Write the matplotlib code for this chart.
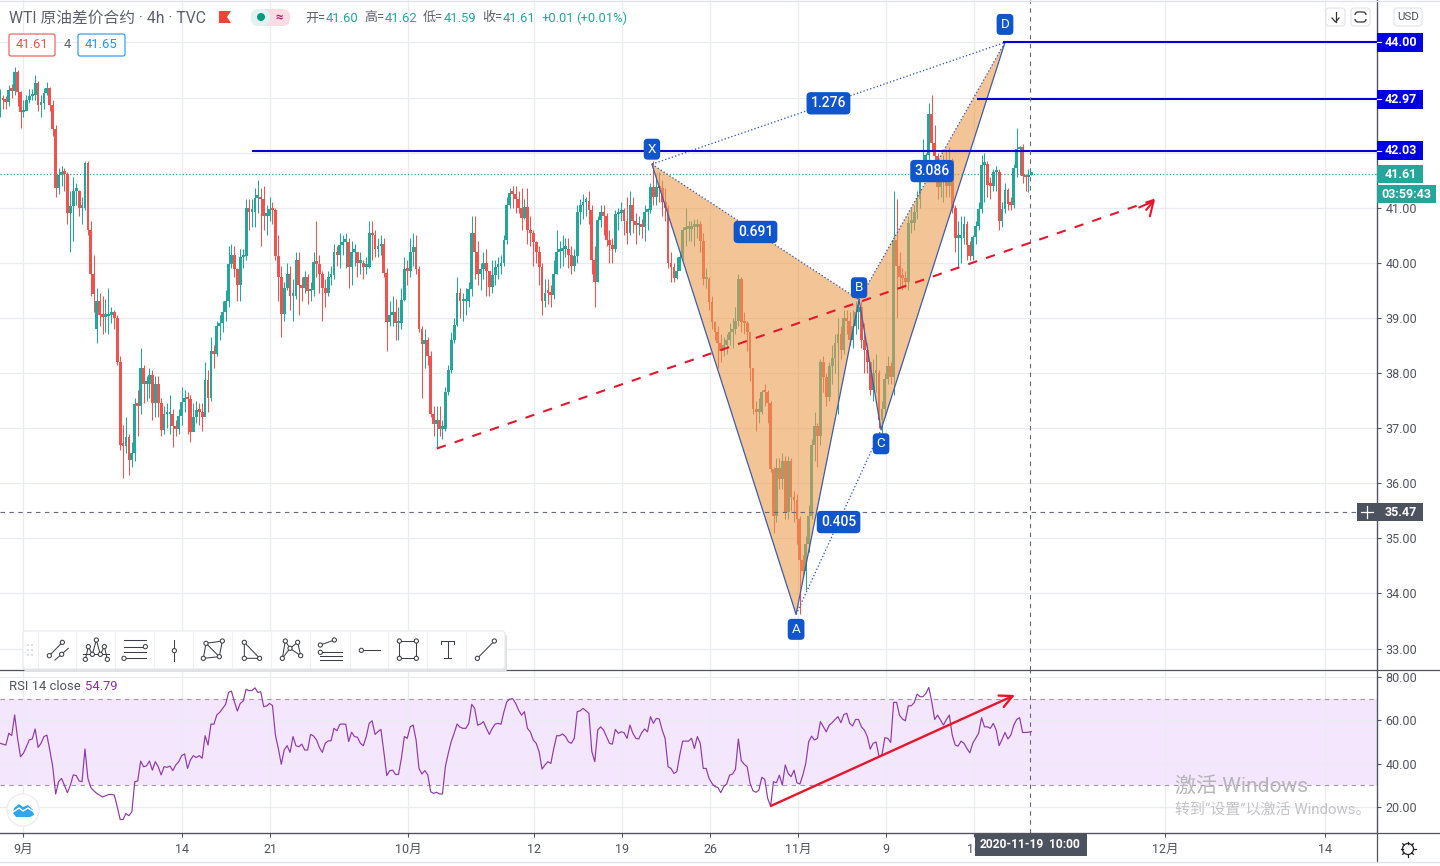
# -*- coding: utf-8 -*-
import numpy as np
import matplotlib
matplotlib.use('Agg')
import matplotlib.pyplot as plt
from matplotlib.patches import Polygon, FancyBboxPatch, Circle, Rectangle

plt.rcParams['font.family'] = ['Roboto', 'Noto Sans CJK SC', 'DejaVu Sans']

# 4h candles, ten per row
closes = [
    43.00,42.95,42.92,43.13,43.12,43.47,43.10,42.73,42.75,42.95,
    43.02,43.05,43.27,42.87,42.90,43.08,43.18,42.87,42.42,41.35,
    41.60,41.65,41.62,40.91,41.03,41.30,41.30,41.00,41.00,41.82,
    40.60,39.80,39.43,39.30,39.05,39.02,39.03,39.05,39.10,39.00,
    38.20,36.70,36.68,36.83,36.43,36.55,37.43,37.40,38.10,37.80,
    37.80,37.97,37.46,37.80,37.46,36.97,37.25,37.25,37.25,37.03,
    36.98,37.22,37.48,37.55,37.52,36.93,37.20,37.33,37.30,37.20,
    37.88,37.55,38.40,38.35,38.85,38.90,39.10,39.30,39.97,40.15,
    39.88,39.60,40.10,40.12,41.00,40.93,40.93,41.18,41.20,41.15,
    40.85,40.85,40.97,40.95,40.12,39.75,39.07,39.55,39.80,39.40,
    39.40,40.05,39.60,39.55,39.75,39.48,39.50,40.02,39.98,39.80,
    39.55,39.45,39.75,39.78,40.20,40.15,40.33,40.38,40.38,39.92,
    40.20,40.20,40.00,40.00,39.93,39.93,40.55,40.50,40.25,40.30,
    40.35,39.82,38.92,39.06,39.10,38.90,38.90,39.33,39.88,39.85,
    40.20,40.28,39.88,38.80,38.52,38.60,38.30,37.25,37.07,37.15,
    36.98,36.98,37.66,38.06,38.60,38.88,39.46,39.30,39.30,39.30,
    39.52,40.55,40.20,39.80,39.88,40.00,39.85,39.57,39.78,39.93,
    39.95,40.00,40.42,41.05,41.27,41.25,41.15,41.00,40.82,41.02,
    40.60,40.55,40.37,40.20,39.93,39.30,39.46,39.45,39.42,39.80,
    40.20,40.22,40.25,40.25,40.15,39.95,40.12,40.93,41.05,41.10,
    41.12,40.95,40.05,39.66,40.78,40.92,40.85,40.42,40.33,40.25,
    40.88,40.90,40.95,40.75,40.55,41.05,40.75,40.68,40.68,40.65,
    40.93,40.95,41.37,41.20,41.38,41.35,41.10,41.00,40.00,39.93,
    39.73,39.85,40.10,40.60,40.62,40.62,40.65,40.65,40.70,40.40,
    39.70,39.70,39.28,38.93,38.75,38.55,38.40,38.50,38.60,38.75,
    38.80,38.95,39.70,38.93,38.90,38.75,38.10,37.35,37.30,37.30,
    37.66,37.65,37.45,36.25,35.40,36.28,36.07,36.40,35.47,36.40,
    35.75,35.70,35.35,34.60,34.40,34.90,35.40,36.70,37.03,36.85,
    38.20,37.92,37.57,38.12,38.28,38.55,38.70,38.42,39.00,38.95,
    38.60,38.85,39.10,39.20,38.60,38.42,38.20,37.70,38.00,38.00,
    37.15,37.35,37.90,38.12,37.92,40.42,39.95,39.75,39.72,39.65,
    40.73,40.73,40.92,41.15,41.70,41.75,41.95,42.70,42.18,41.93,
    41.38,41.50,41.70,41.40,41.87,41.00,40.45,40.45,40.45,40.70,
    40.33,40.12,40.46,40.66,40.97,41.78,41.80,41.42,41.40,41.64,
    41.65,40.75,40.97,41.33,41.06,41.05,41.73,42.06,42.10,41.57,
    41.55,41.60,41.61]
highs = [
    43.15,43.05,43.02,43.22,43.25,43.55,43.5,43.12,42.95,43.05,
    43.15,43.15,43.4,43.3,43.05,43.18,43.28,43.2,42.95,42.5,
    41.72,41.75,41.72,41.65,41.3,41.55,41.45,41.32,41.2,41.85,
    41.84,40.75,40.15,39.55,39.45,39.4,39.35,39.55,39.2,39.15,
    39.05,38.3,37.05,37.2,36.9,36.75,37.55,37.7,38.45,38.15,
    37.95,38.1,38.05,37.95,37.95,37.55,37.4,37.45,37.6,37.35,
    37.15,37.35,37.75,37.7,37.65,37.6,37.45,37.5,37.45,37.45,
    38.2,38.05,38.65,38.5,38.95,39.05,39.3,39.5,40.3,40.35,
    40.3,39.9,40.25,40.25,41.15,41.15,41.15,41.35,41.5,41.35,
    41.4,41.05,41.2,41.1,41.0,40.5,39.95,39.65,40.0,39.95,
    39.7,40.2,40.2,39.75,39.85,39.8,39.65,40.2,40.75,40.15,
    39.85,39.7,39.85,39.95,40.35,40.3,40.55,40.5,40.55,40.45,
    40.4,40.35,40.2,40.2,40.05,40.1,40.75,40.75,40.6,40.45,
    40.5,40.45,39.9,39.3,39.4,39.35,39.2,39.55,40.1,40.05,
    40.45,40.55,40.5,39.95,38.85,38.8,38.65,38.4,37.4,37.4,
    37.4,37.15,37.75,38.15,38.75,39.0,39.75,39.55,39.45,39.55,
    39.65,40.85,40.85,40.4,40.0,40.2,40.25,39.85,40.05,40.05,
    40.1,40.15,40.5,41.2,41.35,41.4,41.4,41.3,41.35,41.15,
    41.35,40.85,40.6,40.4,40.3,40.0,39.7,39.7,39.6,40.05,
    40.6,40.4,40.5,40.45,40.45,40.3,40.25,41.05,41.15,41.25,
    41.2,41.3,41.05,40.3,40.85,41.05,41.05,40.9,40.6,40.45,
    40.95,41.0,41.1,41.0,41.2,41.3,41.2,40.9,40.85,40.8,
    41.05,41.0,41.45,41.85,41.6,41.65,41.5,41.35,41.05,40.2,
    40.0,40.1,40.2,40.65,41.0,40.75,40.75,40.8,40.8,40.75,
    40.55,39.9,39.75,39.4,38.95,38.85,38.7,38.65,38.7,38.9,
    39.0,39.2,39.8,39.75,39.1,38.95,38.75,38.1,37.5,37.55,
    37.7,37.8,37.7,37.5,36.3,36.45,36.45,36.55,36.5,36.5,
    36.45,35.85,35.8,35.4,34.7,35.05,35.6,36.8,37.3,37.1,
    38.25,38.3,38.0,38.2,38.5,38.7,39.0,38.85,39.15,39.15,
    39.1,39.15,39.3,39.45,39.3,38.9,38.55,38.2,38.25,38.35,
    38.05,37.5,38.0,38.3,38.2,41.3,41.15,40.2,39.9,39.85,
    40.85,41.0,41.05,41.3,41.85,42.25,42.0,42.9,43.05,42.5,
    42.0,41.85,41.95,42.05,42.1,41.9,41.05,40.75,40.85,40.85,
    40.75,40.4,40.5,40.75,41.1,41.95,42.0,41.85,41.55,41.7,
    41.75,41.7,41.1,41.45,41.35,41.2,41.8,42.44,42.12,42.15,
    41.62,41.7,41.62]
lows = [
    42.65,42.8,42.8,42.85,43.0,43.05,42.85,42.45,42.65,42.8,
    42.9,42.95,42.95,42.75,42.65,42.8,43.05,42.75,42.3,41.2,
    41.25,41.4,41.3,40.7,40.2,40.4,41.05,40.85,40.7,40.95,
    40.5,39.4,39.1,38.55,38.85,38.7,38.75,38.7,38.9,38.8,
    38.15,36.6,36.1,36.55,36.15,36.3,36.4,36.85,37.25,37.45,
    37.5,37.55,37.15,37.2,37.2,36.85,36.9,37.0,36.9,36.65,
    36.85,36.9,37.05,37.3,36.9,36.75,36.95,37.1,37.05,36.95,
    37.3,37.3,37.5,38.1,38.3,38.6,38.75,38.95,39.2,39.9,
    39.75,39.3,39.3,39.9,40.05,40.6,40.65,40.65,40.9,40.3,
    40.6,40.5,40.75,40.7,40.05,39.3,38.65,38.95,39.5,39.15,
    38.95,39.35,39.05,39.3,39.45,39.25,39.3,39.4,39.75,39.45,
    38.95,39.2,39.4,39.6,39.7,39.95,39.9,40.15,39.9,39.55,
    39.6,39.95,39.75,39.8,39.7,39.8,39.9,40.05,40.1,40.1,
    40.15,39.75,38.4,38.85,38.85,38.6,38.6,38.8,39.3,39.6,
    39.75,39.95,39.8,38.75,37.55,38.1,38.15,37.2,36.85,36.65,
    36.85,36.8,36.95,37.6,38.0,38.55,38.85,39.0,38.95,39.05,
    39.2,39.4,39.7,39.6,39.5,39.7,39.4,39.4,39.45,39.6,
    39.7,39.8,39.95,40.35,41.0,41.0,40.9,40.9,40.6,40.8,
    40.35,40.3,39.95,40.0,39.6,39.05,39.2,39.25,39.2,39.35,
    39.8,39.9,39.95,40.1,39.9,39.8,39.85,40.0,40.7,40.8,
    40.85,40.7,39.8,39.2,39.65,40.65,40.5,40.3,40.0,40.0,
    40.2,40.6,40.75,40.5,40.35,40.5,40.55,40.35,40.5,40.45,
    40.4,40.6,40.9,41.05,41.05,41.1,40.85,40.75,39.9,39.65,
    39.65,39.7,39.9,40.05,40.3,40.4,40.4,40.3,40.45,40.2,
    39.6,39.55,39.15,38.8,38.6,38.1,38.2,38.3,38.35,38.5,
    38.45,38.7,38.85,38.75,38.7,38.4,37.85,37.25,36.95,37.1,
    37.25,37.4,37.1,36.2,35.1,35.3,35.9,35.9,35.35,35.35,
    35.5,35.3,34.9,33.62,34.3,34.07,34.75,35.35,36.4,36.3,
    36.7,37.65,37.4,37.5,37.8,38.0,37.25,38.25,38.35,38.7,
    38.5,38.45,38.7,38.8,38.45,38.0,38.0,37.6,37.5,37.65,
    37.0,36.85,37.2,37.8,37.8,37.6,39.0,39.55,39.5,39.55,
    39.5,40.55,40.6,40.8,41.0,41.6,41.5,41.8,42.05,41.65,
    41.15,41.2,41.1,41.2,41.2,40.9,40.2,39.9,40.0,40.35,
    40.05,40.05,40.05,40.35,40.6,40.9,41.1,41.2,41.15,41.3,
    41.3,40.6,40.65,40.9,40.95,40.95,41.0,41.55,41.6,41.45,
    41.3,41.28,41.59]
gap_opens = {33: 38.8}

rsi = [
    49.4,49,48.6,54,53,62.5,51.7,43.2,44.8,47.8,
    51,51.4,56,47.5,49.4,52.5,53.2,46.3,38.6,26,
    31.7,33.2,30,26.6,30,34.8,34.5,32,31.7,46.8,
    33.2,29,27.5,26.3,25.5,24.6,25.2,25.7,25.8,25.5,
    20.2,14.3,14.2,17,16,17.8,31.7,32,41.2,38.6,
    39,41.2,37,40.9,38.6,34.8,38.6,38.3,38.9,36.8,
    39.4,40.9,43.7,44.5,37.8,41.7,43.7,42.8,43.7,42.5,
    52.9,48.6,58.3,58.2,62.5,63.7,65.5,67.4,72.9,73.5,
    68.6,64.3,67.8,68.9,74.3,73.7,73.7,75,72.9,73.2,
    66.3,66.6,67.8,66.8,53.2,47,39.7,46.3,48.3,45.2,
    52.5,48.3,47.8,49,46.3,46.3,53.5,52.8,51,47.5,
    45.2,49.4,50.5,50.6,56.3,55.2,58.2,58.3,58.2,50.2,
    54.5,52.5,52.2,49.4,48.3,52.5,58.6,59.8,53.5,54.8,
    55.8,45.5,34.5,36.8,37,35,35,42.5,52.5,51.7,
    57,57.8,51,37.8,35.2,36.8,34.8,27,26.3,26.8,
    26,26,38.6,44.8,50.2,54,58.3,56.8,56.3,56.3,
    58.6,67.4,65.5,57.8,58.3,59.4,56.3,53.5,56.3,58.3,
    58.6,58.2,64,68.6,69.8,70,67.8,64.7,62.4,64,
    56.3,54.7,50.9,49.4,45.5,37.5,39.4,40.9,40.1,47,
    52.9,52.9,53.7,52.5,50.1,49.4,51.7,64,64.4,65.5,
    64.4,63.2,45.5,40.9,55.5,57,55.5,52.5,49.4,49,
    55.8,54,54.7,54.3,51.7,57.8,54,51.7,51.4,54.3,
    56,54.7,61.7,58.6,60.9,60.6,55.5,51.7,38.6,37.8,
    35.5,36.3,44,50.4,50.4,50.4,51.7,47,52.5,49.4,
    37.8,37.8,33.2,30.9,29.4,29,26.6,29.4,30.6,34.7,
    35.2,37.4,51.4,41.4,39.7,38.6,30.9,27.5,26.8,27.8,
    33.7,32.8,24,20.4,31.7,31.2,34.7,30.1,39.4,35.5,
    34,37,31.2,30.6,34.7,40.1,50.1,52.7,50.9,51.7,
    59.4,57,54.7,57.8,58.9,60.4,61.7,58.9,62.7,63.2,
    58.6,57.4,60.4,60.4,57,55.5,52.5,46.7,49.4,50,
    43.5,44,52,51.7,49.8,68.3,68.3,62.4,60.6,59.8,
    66.7,66.7,68.1,72.1,70.9,70.9,72.4,75.2,68.6,60.4,
    62.4,60.1,57.8,60.4,62.4,53.2,48.6,48.1,50.4,49.4,
    47,45,49.4,51.7,54,61.2,57,57,56.3,58.6,
    55.5,48.3,51.2,54.4,51.4,53.2,57.8,60.4,61.2,54.4,
    54.4,54.5,54.79]

price_ticks = [33, 34, 35, 36, 37, 38, 39, 40, 41, 42, 43, 44]
rsi_ticks = [20, 40, 60, 80]
tick_bars = [7.9, 62.1, 92.2, 139.2, 182.3, 212.3, 242.3, 272.3, 302.4, 332.4, 397.6, 452.2]
tick_labels = ['9月', '14', '21', '10月', '12', '19', '26', '11月', '9', '16', '12月', '14']

pattern_x = [222.5, 271.7, 293.2, 300.7, 343.0]   # X A B C D
pattern_y = [41.79, 33.62, 39.33, 36.97, 44.00]
level_prices = [42.03, 42.97, 44.00]
level_starts = [86.0, 333.4, 342.3]
trend_x = [149.1, 394.2]
trend_y = [36.63, 41.15]
rsi_arrow_x = [263.1, 346.4]
rsi_arrow_y = [20.5, 71.7]
last_bar = 351.5
last_price = 41.61
cross_price = 35.47

UP = '#26a69a'
DOWN = '#ef5350'
GRID = '#e9ecf1'
AXIS = '#50535e'
TEXT = '#50535e'
LABEL = '#1155cc'
W, H = 1440, 866
AX_W = 1377

fig = plt.figure(figsize=(14.4, 8.66), dpi=100)
ax = fig.add_axes([0, (H - 670) / H, AX_W / W, 670 / H])
ax2 = fig.add_axes([0, (H - 833) / H, AX_W / W, 163 / H])
ui = fig.add_axes([0, 0, 1, 1], zorder=10)
ui.set_xlim(0, W)
ui.set_ylim(H, 0)
ui.axis('off')
ui.patch.set_alpha(0)

# candles
n = len(closes)
idx = np.arange(n)
c = np.array(closes)
o = np.array([closes[0]] + closes[:-1])
for k, v in gap_opens.items():
    o[k] = v
hi = np.array(highs)
lo = np.array(lows)
up = c >= o
for mask, col in ((up, UP), (~up, DOWN)):
    ax.vlines(idx[mask], lo[mask], hi[mask], color=col, lw=0.75, zorder=2)
    h = np.abs(c[mask] - o[mask])
    h = np.maximum(h, 0.05)
    ax.bar(idx[mask], h, bottom=np.minimum(o[mask], c[mask]), width=0.95, color=col, lw=0, zorder=2)

ax.set_xlim(0, AX_W / 2.93)
ax.set_ylim(32.61, 44.77)
ax.set_yticks(price_ticks)
ax.set_yticklabels([f'{p:.2f}' if p <= 41 else '' for p in price_ticks])
ax.set_xticks(tick_bars)
ax.tick_params(axis='x', length=0, labelbottom=False)
ax.tick_params(axis='y', left=False, labelleft=False, right=True, labelright=True,
               length=3, width=0.8, color=AXIS, labelcolor=TEXT, labelsize=9, pad=3)
ax.grid(color=GRID, lw=0.9, zorder=0)
ax.set_axisbelow(True)
for s in ['top', 'left', 'bottom']:
    ax.spines[s].set_visible(False)
ax.spines['right'].set_color(AXIS)

# harmonic pattern
px, py = pattern_x, pattern_y
edge = '#3f5ca6'
ax.add_patch(Polygon([(px[0], py[0]), (px[1], py[1]), (px[2], py[2])], fc='#eb9d50', ec='none', alpha=0.6, zorder=3))
ax.add_patch(Polygon([(px[2], py[2]), (px[3], py[3]), (px[4], py[4])], fc='#eb9d50', ec='none', alpha=0.6, zorder=3))
ax.plot(px, py, color=edge, lw=0.9, zorder=4)
for a, b in ((0, 2), (2, 4), (0, 4), (1, 3)):
    ax.plot([px[a], px[b]], [py[a], py[b]], ':', color='#3a5cb0', lw=0.95, zorder=4)
box_kw = dict(boxstyle='round,pad=0.3', fc=LABEL, ec='none')
for name, i, dy in (('X', 0, 15), ('A', 1, -15), ('B', 2, 12), ('C', 3, -14), ('D', 4, 18)):
    ax.annotate(name, (px[i], py[i]), xytext=(0, dy), textcoords='offset pixels', ha='center', va='center',
                color='white', fontsize=9.6, bbox=box_kw, zorder=6)
for val, a, b in (('1.276', 0, 4), ('0.691', 0, 2), ('0.405', 1, 3), ('3.086', 2, 4)):
    ax.text((px[a] + px[b]) / 2, (py[a] + py[b]) / 2, val, ha='center', va='center', color='white',
            fontsize=10, fontweight='medium', bbox=box_kw, zorder=6)

# levels, trend line and crosshair
for p, s in zip(level_prices, level_starts):
    ax.hlines(p, s, AX_W / 2.93, color='#0000d6', lw=1.5, zorder=5)
ax.axhline(last_price, color=UP, ls=':', lw=0.9, zorder=1)
ax.axhline(cross_price, color='#666a75', ls=(0, (4, 4)), lw=0.8, zorder=5)
ax.axvline(last_bar, color='#666a75', ls=(0, (4, 4)), lw=0.8, zorder=5)
ax.plot(trend_x, trend_y, color='#e6162d', lw=1.5, dashes=(4.5, 4.5), zorder=5)
ax.annotate('', xy=(trend_x[1], trend_y[1]), xytext=(trend_x[1] - 3, trend_y[1] - 0.19),
            arrowprops=dict(arrowstyle='->,head_length=1.0,head_width=0.5', color='#e6162d', lw=1.5,
                            shrinkA=0, shrinkB=0), zorder=5)

# RSI pane
ax2.axhspan(30, 70, color='#f3e6fd', lw=0, zorder=0)
ax2.plot(idx, rsi, color='#8e3aa6', lw=0.85, zorder=3)
ax2.axhline(70, color='#a09aa8', ls=(0, (4, 4)), lw=0.8, zorder=2)
ax2.axhline(30, color='#a09aa8', ls=(0, (4, 4)), lw=0.8, zorder=2)
ax2.axvline(last_bar, color='#666a75', ls=(0, (4, 4)), lw=0.8, zorder=4)
ax2.annotate('', xy=(rsi_arrow_x[1], rsi_arrow_y[1]), xytext=(rsi_arrow_x[0], rsi_arrow_y[0]),
             arrowprops=dict(arrowstyle='->,head_length=0.9,head_width=0.45', color='#e6162d', lw=1.7,
                             shrinkA=0, shrinkB=0), zorder=5)
ax2.set_xlim(0, AX_W / 2.93)
ax2.set_ylim(8.0, 83.23)
ax2.set_yticks(rsi_ticks)
ax2.set_yticklabels([f'{v:.2f}' for v in rsi_ticks])
ax2.set_xticks(tick_bars)
ax2.set_xticklabels(tick_labels)
ax2.tick_params(axis='y', left=False, labelleft=False, right=True, labelright=True,
                length=3, width=0.8, color=AXIS, labelcolor=TEXT, labelsize=9, pad=3)
ax2.tick_params(axis='x', length=3, width=0.8, color=AXIS, labelcolor=TEXT, labelsize=9, pad=4)
ax2.grid(color=GRID, lw=0.9, zorder=1)
ax2.set_axisbelow(True)
for s in ['top', 'left']:
    ax2.spines[s].set_visible(False)
ax2.spines['right'].set_color(AXIS)
ax2.spines['bottom'].set_color(AXIS)
ax2.patch.set_alpha(0)


def box(x0, y0, x1, y1, fc, ec='none', r=2, lw=0.8, z=3):
    ui.add_patch(FancyBboxPatch((x0, y0), x1 - x0, y1 - y0, boxstyle=f'round,pad=0,rounding_size={r}',
                                fc=fc, ec=ec, lw=lw, zorder=z))


def label(x, y, s, size=12, color=TEXT, ha='left', weight='normal', z=5, **kw):
    ui.text(x, y, s, fontsize=size * 0.72, color=color, ha=ha, va='center', fontweight=weight, zorder=z, **kw)


def price_y(p):
    return H - ax.transData.transform((0, p))[1]


# window chrome lines
ui.plot([0, W], [669.5, 669.5], color=AXIS, lw=0.9, zorder=2)
ui.plot([0, W], [833, 833], color=AXIS, lw=0.9, zorder=2)
ui.plot([AX_W, AX_W], [0, 861], color=AXIS, lw=0.9, zorder=2)
ui.plot([0, W], [0.5, 0.5], color='#e0e3eb', lw=1, zorder=2)
ui.plot([0, W], [862, 862], color='#e0e3eb', lw=1, zorder=2)

# price tags
for p in level_prices:
    y = price_y(p)
    ui.add_patch(Rectangle((AX_W, y - 9.5), 46, 19, fc='#0000e0', ec='none', zorder=3))
    ui.plot([AX_W, AX_W + 4], [y, y], color='white', lw=0.8, zorder=4)
    label(1385, y, f'{p:.2f}', 12.5, 'white', weight='bold')
y = price_y(last_price)
ui.add_patch(Rectangle((AX_W, y - 9), 46, 18, fc=UP, ec='none', zorder=3))
label(1385, y, '41.61', 12.5, 'white', weight='bold')
ui.add_patch(Rectangle((AX_W, 185), 59, 18, fc=UP, ec='none', zorder=3))
label(1381, 194, '03:59:43', 12.5, 'white', weight='bold')
y = price_y(cross_price)
ui.add_patch(Rectangle((AX_W, y - 9), 46, 18, fc='#4c525e', ec='none', zorder=3))
label(1385, y, '35.47', 12.5, 'white', weight='bold')
ui.add_patch(Rectangle((1357, y - 9), 20, 18, fc='#4c525e', ec='none', zorder=3))
ui.plot([1361, 1373], [y, y], color='white', lw=0.9, zorder=4)
ui.plot([1367, 1367], [y - 6, y + 6], color='white', lw=0.9, zorder=4)

# time tag
ui.add_patch(Rectangle((975, 833.5), 112, 22, fc='#4c525e', ec='none', zorder=3))
label(980, 845, '2020-11-19', 12, 'white', weight='bold')
label(1049, 845, '10:00', 12, 'white', weight='bold')

# header
label(9, 18, 'WTI 原油差价合约 · 4h · TVC', 15.7, '#5d606b')
ui.add_patch(Polygon([(219, 11), (231, 11), (227, 17), (231, 23), (219, 23)], fc='#f44336', ec='none', zorder=4))
box(251, 9, 290, 26, '#fbdbe4', r=8)
box(251, 9, 270, 26, '#dff3f0', r=8, z=3.5)
ui.add_patch(Circle((261, 17), 4, fc='#089981', ec='none', zorder=4))
label(279, 17, '≈', 13, '#c2185b', ha='center', weight='bold')
for x, s, col in ((305, '开=', '#5d606b'), (326, '41.60', UP), (364, '高=', '#5d606b'), (385, '41.62', UP),
                  (423, '低=', '#5d606b'), (444, '41.59', UP), (482, '收=', '#5d606b'), (503, '41.61', UP),
                  (541, '+0.01', UP), (576, '(+0.01%)', UP)):
    label(x, 18, s, 13, col)
box(9, 34, 55, 56, 'white', ec='#ef5350')
label(32, 45, '41.61', 13, '#ef5350', ha='center')
label(67, 45, '4', 13, '#5d606b', ha='center')
box(78, 34, 125, 56, 'white', ec='#2196f3')
label(101.5, 45, '41.65', 13, '#2196f3', ha='center')

# top right buttons
box(1326, 8, 1345, 26, 'white', ec='#e0e3eb', r=3)
ui.plot([1335.5, 1335.5], [12, 22], color='#333', lw=0.9, zorder=4)
ui.plot([1332, 1335.5, 1339], [18, 22, 18], color='#333', lw=0.9, zorder=4)
box(1351, 8, 1370, 26, 'white', ec='#e0e3eb', r=3)
box(1355, 12, 1366, 22, 'white', ec='#333', r=3, lw=0.9, z=4)
ui.add_patch(Rectangle((1353, 15), 15, 4, fc='white', ec='none', zorder=4.5))
box(1394, 8, 1422, 26, 'white', ec='#e0e3eb', r=3)
label(1408, 17, 'USD', 11.5, TEXT, ha='center')

# RSI title, watermark
label(9, 686, 'RSI 14 close', 13, TEXT)
label(85, 686, '54.79', 13, '#8e2fa0')
label(1175, 786, '激活 Windows', 21, '#b5b5ba')
label(1175, 810, '转到“设置”以激活 Windows。', 15, '#c4c4c8')

# logo
ui.add_patch(Circle((23, 810), 16, fc='white', ec='#eeeeee', lw=1, zorder=4))
ui.add_patch(Polygon([(13, 813), (14, 808), (19, 804), (23, 807), (28, 805), (33, 810), (34, 815),
                      (30, 817), (16, 817)], fc='#2ea6f0', ec='none', zorder=5))
ui.plot([13, 19, 23, 28, 34], [812, 808, 811, 808, 812], color='white', lw=1, zorder=6)

# gear
ui.add_patch(Circle((1408, 849), 5.5, fc='white', ec='#222', lw=0.9, zorder=4))
for a in np.arange(0, 2 * np.pi, np.pi / 4):
    ui.plot([1408 + 5.5 * np.cos(a), 1408 + 7.5 * np.cos(a)], [849 + 5.5 * np.sin(a), 849 + 7.5 * np.sin(a)],
            color='#222', lw=0.9, zorder=4)

# drawing toolbar
box(24, 634, 507, 672, '#dfe1e6', r=3, z=6)
box(23, 631, 505, 669, 'white', ec='#e6e8ec', r=3, z=6.1)
for x in [37.5, 76, 115, 154, 193, 232, 271, 310, 350, 388, 427, 466]:
    ui.plot([x, x], [632, 668], color='#eef0f3', lw=0.8, zorder=6.2)
for x in (28, 32):
    for y in (645, 650, 655):
        ui.add_patch(Circle((x, y), 0.9, fc='#c9ccd3', ec='none', zorder=6.2))
icon_lines = [
    [(148, 92), (187, 52)], [(165, 105), (205, 70)],
    [(256, 103), (265, 65), (277, 88), (289, 45), (301, 88), (313, 65), (322, 103)], [(250, 88), (328, 88)],
    [(372, 46), (438, 46)], [(372, 65), (430, 65)], [(372, 82), (438, 82)], [(378, 100), (438, 100)],
    [(523, 45), (523, 108)],
    [(610, 100), (618, 55), (667, 48), (658, 95), (610, 100)], [(618, 55), (658, 95)],
    [(733, 52), (733, 100), (779, 100), (733, 52)],
    [(847, 100), (856, 48), (870, 70), (893, 52), (902, 92), (870, 70), (847, 100)],
    [(961, 60), (1003, 45)], [(961, 82), (1027, 82)], [(961, 92), (1027, 92)], [(961, 105), (1027, 105)],
    [(1084, 76), (1140, 76)],
    [(1198, 48), (1249, 48), (1249, 100), (1198, 100), (1198, 48)],
    [(1323, 48), (1362, 48)], [(1343, 48), (1343, 100)], [(1332, 100), (1354, 100)], [(1323, 48), (1323, 58)], [(1362, 48), (1362, 58)],
    [(1432, 100), (1483, 48)],
]
icon_dots = [(148, 92), (187, 52), (185, 88), (256, 103), (265, 65), (277, 88), (289, 45), (301, 88), (313, 65),
             (322, 103), (436, 65), (372, 100), (523, 77), (610, 100), (618, 55), (667, 48), (658, 95), (733, 52),
             (733, 100), (779, 100), (847, 100), (856, 48), (870, 70), (893, 52), (902, 92), (961, 60), (1003, 45),
             (961, 82), (1084, 76), (1198, 48), (1249, 48), (1198, 100), (1249, 100), (1432, 100), (1483, 48)]
for seg in icon_lines:
    xs = [p[0] / 3 for p in seg]
    ys = [625 + p[1] / 3 for p in seg]
    ui.plot(xs, ys, color='#3c3f47', lw=0.75, zorder=6.3)
for p in icon_dots:
    ui.add_patch(Circle((p[0] / 3, 625 + p[1] / 3), 2.1, fc='white', ec='#3c3f47', lw=0.75, zorder=6.4))

fig.savefig('out.png', dpi=100)
